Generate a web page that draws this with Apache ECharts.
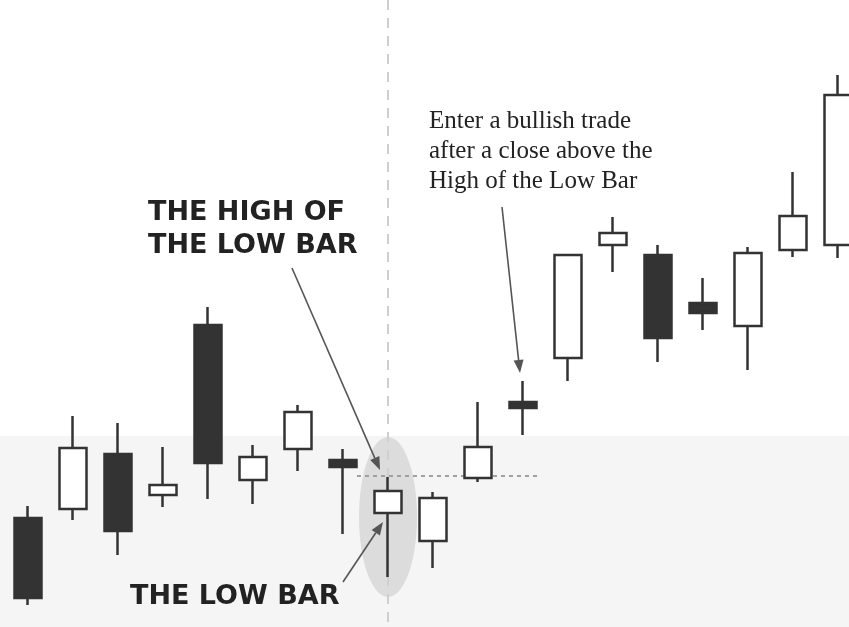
<!DOCTYPE html>
<html>
<head>
<meta charset="utf-8">
<script src="https://cdn.jsdelivr.net/npm/echarts@6/dist/echarts.min.js"></script>
<style>
    html, body { margin: 0; padding: 0; background: #fff; }
    #main { width: 849px; height: 627px; }
</style>
</head>
<body>
<div id="main"></div>
<script>
    // bars, left to right
    var bars = ['1', '2', '3', '4', '5', '6', '7', '8', '9', '10', '11', '12', '13', '14', '15', '16', '17', '18', '19'];
    var opens  = [10.9, 11.8, 17.3, 13.2, 30.2, 14.7, 17.8, 16.7, 11.4, 8.6, 14.9, 22.5, 26.9, 38.2, 37.2, 32.4, 30.1, 37.7, 38.2];
    var closes = [2.9, 17.9, 9.6, 14.2, 16.4, 17.0, 21.5, 16.0, 13.6, 12.9, 18.0, 21.9, 37.2, 39.4, 28.9, 31.4, 37.4, 41.1, 53.2];
    var lows   = [2.2, 10.7, 7.2, 12.0, 12.8, 12.3, 15.6, 9.3, 5.0, 5.9, 14.5, 19.2, 24.6, 35.5, 26.5, 29.7, 25.7, 37.0, 36.9];
    var highs  = [12.1, 21.1, 20.4, 18.0, 32.0, 18.2, 22.2, 17.8, 15.0, 13.5, 22.5, 24.6, 37.3, 41.0, 38.2, 34.9, 38.0, 45.5, 55.2];
    var lowBar = 8;

    var ink = '#333';
    var candles = [];
    for (var i = 0; i < bars.length; i++) {
        candles.push([opens[i], closes[i], lows[i], highs[i]]);
    }

    var chart = echarts.init(document.getElementById('main'));
    chart.setOption({
        backgroundColor: '#fff',
        animation: false,
        // last bar runs off the right edge, so the grid is wider than the canvas
        grid: { left: 5.5, top: 0, width: 855, height: 627, outerBoundsMode: 'none', containLabel: false },
        xAxis: { type: 'category', data: bars, boundaryGap: true, show: false },
        yAxis: { type: 'value', min: 0, max: 62.7, show: false, splitLine: { show: false } },
        series: [{
            type: 'candlestick',
            data: candles,
            barWidth: 28,
            z: 5,
            itemStyle: {
                color: '#fff',
                color0: ink,
                borderColor: ink,
                borderColor0: ink,
                borderWidth: 2.5
            }
        }]
    });

    // annotations
    function arrow(x1, y1, x2, y2) {
        var dx = x2 - x1, dy = y2 - y1;
        var len = Math.sqrt(dx * dx + dy * dy);
        var ux = dx / len, uy = dy / len;
        var hl = 13, hw = 5;
        var bx = x2 - ux * hl, by = y2 - uy * hl;
        return [{
            type: 'line', z: 20,
            shape: { x1: x1, y1: y1, x2: bx, y2: by },
            style: { stroke: '#555', lineWidth: 1.6 }
        }, {
            type: 'polygon', z: 20,
            shape: { points: [[x2, y2], [bx - uy * hw, by + ux * hw], [bx + uy * hw, by - ux * hw]] },
            style: { fill: '#555' }
        }];
    }

    var lowPt = chart.convertToPixel({ gridIndex: 0 }, [lowBar, highs[lowBar]]);
    var capFont = 'bold 27px "DejaVu Sans"';
    var serifFont = '25px "Liberation Serif"';

    var els = [
        { type: 'rect', z: 0, shape: { x: 0, y: 436, width: 849, height: 191 }, style: { fill: '#f5f5f5' } },
        { type: 'ellipse', z: 1, shape: { cx: lowPt[0], cy: 517, rx: 29, ry: 80 }, style: { fill: '#dcdcdc' } },
        { type: 'line', z: 2, shape: { x1: lowPt[0], y1: 0, x2: lowPt[0], y2: 627 },
          style: { stroke: '#cfcfcf', lineWidth: 2, lineDash: [10, 8] } },
        { type: 'line', z: 3, shape: { x1: 357, y1: lowPt[1] - 1, x2: 540, y2: lowPt[1] - 1 },
          style: { stroke: '#a0a0a0', lineWidth: 2, lineDash: [4, 4] } },
        { type: 'text', z: 20, style: { text: 'THE HIGH OF', x: 148, y: 213, font: capFont, fill: '#222', verticalAlign: 'middle' } },
        { type: 'text', z: 20, style: { text: 'THE LOW BAR', x: 148, y: 246, font: capFont, fill: '#222', verticalAlign: 'middle' } },
        { type: 'text', z: 20, style: { text: 'THE LOW BAR', x: 130, y: 597, font: capFont, fill: '#222', verticalAlign: 'middle' } },
        { type: 'text', z: 20, style: { text: 'Enter a bullish trade', x: 429, y: 121, font: serifFont, fill: '#222', verticalAlign: 'middle' } },
        { type: 'text', z: 20, style: { text: 'after a close above the', x: 429, y: 151, font: serifFont, fill: '#222', verticalAlign: 'middle' } },
        { type: 'text', z: 20, style: { text: 'High of the Low Bar', x: 429, y: 181, font: serifFont, fill: '#222', verticalAlign: 'middle' } }
    ];
    els = els.concat(arrow(292, 268, 380, 470), arrow(343, 582, 383, 522), arrow(502, 207, 520, 373));

    chart.setOption({ graphic: { elements: els } });
</script>
</body>
</html>
